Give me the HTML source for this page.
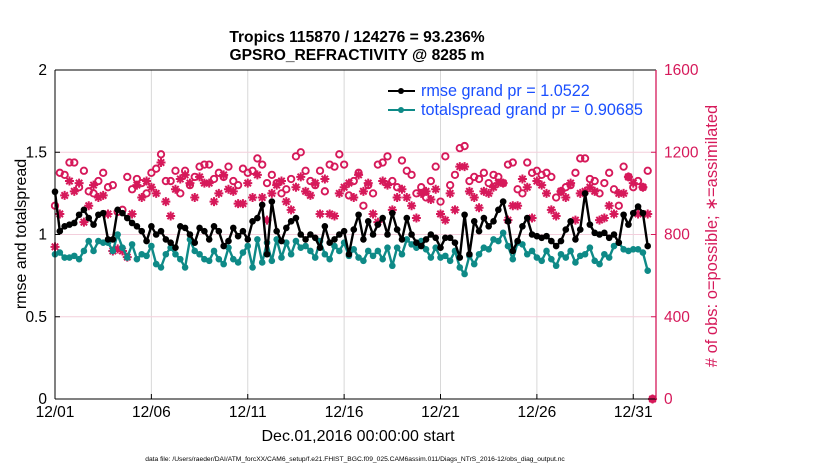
<!DOCTYPE html>
<html><head><meta charset="utf-8"><style>
body{margin:0;background:#fff;}
svg{display:block;font-family:"Liberation Sans",Arial,sans-serif;}
</style></head><body>
<svg id="chart" width="830" height="470" viewBox="0 0 830 470">
<text x="357" y="42" font-size="15.6" font-weight="bold" text-anchor="middle">Tropics 115870 / 124276 = 93.236%</text>
<text x="357" y="60" font-size="15.6" font-weight="bold" text-anchor="middle">GPSRO_REFRACTIVITY @ 8285 m</text>
<g id="grid"></g>
<g id="marks"></g>
<g id="axes"></g>
<text transform="translate(26,234) rotate(-90)" font-size="16" text-anchor="middle">rmse and totalspread</text>
<text transform="translate(717,236) rotate(-90)" font-size="16.5" fill="#d6195a" text-anchor="middle"># of obs: o=possible; ∗=assimilated</text>
<text x="358" y="441" font-size="16" text-anchor="middle">Dec.01,2016 00:00:00 start</text>
<text x="355" y="461" font-size="6.7" text-anchor="middle">data file: /Users/raeder/DAI/ATM_forcXX/CAM6_setup/f.e21.FHIST_BGC.f09_025.CAM6assim.011/Diags_NTrS_2016-12/obs_diag_output.nc</text>
<g>
<line x1="388" y1="91" x2="415" y2="91" stroke="#000" stroke-width="2"/>
<circle cx="401" cy="91" r="3" fill="#000"/>
<text x="421" y="96" font-size="16.2" fill="#1a4fff">rmse grand pr = 1.0522</text>
<line x1="388" y1="110" x2="415" y2="110" stroke="#0e8a87" stroke-width="2"/>
<circle cx="401" cy="110" r="3" fill="#0e8a87"/>
<text x="421" y="115" font-size="16.2" fill="#1a4fff">totalspread grand pr = 0.90685</text>
</g>
</svg>
<script>
const rmse=[1.26,1.02,1.05,1.06,1.07,1.12,1.15,1.10,1.06,1.12,1.13,0.97,0.97,1.15,1.13,1.10,1.07,1.05,1.02,0.96,1.05,1.00,1.02,0.97,0.95,0.92,1.05,1.04,1.00,0.95,1.04,1.02,0.97,1.05,1.02,0.93,0.96,1.04,0.99,1.02,0.97,1.08,1.10,1.18,0.88,1.20,1.02,0.96,1.04,1.08,1.10,1.00,0.97,1.00,0.98,0.92,1.05,0.95,0.97,1.00,1.02,0.88,1.03,1.12,0.97,1.08,1.00,1.06,1.10,1.00,1.13,1.03,0.97,1.10,1.00,0.95,0.93,0.97,1.00,0.98,0.92,0.98,0.98,0.95,0.86,1.12,0.88,1.08,1.02,1.10,1.05,1.08,1.15,1.20,1.08,0.90,0.96,1.05,1.10,1.00,0.99,0.98,0.99,0.96,0.93,0.96,1.03,1.08,0.97,1.03,1.25,1.06,1.01,1.00,1.01,0.98,1.00,0.95,1.12,1.06,1.13,1.17,1.13,0.93,null];
const spread=[0.88,0.89,0.86,0.86,0.87,0.85,0.90,0.96,0.90,0.96,0.95,0.95,0.90,1.00,0.92,0.86,0.94,0.85,0.88,0.87,0.93,0.82,0.80,0.88,0.92,0.88,0.85,0.80,0.97,0.90,0.88,0.85,0.84,0.90,0.85,0.82,0.92,0.85,0.83,0.89,0.93,0.80,0.97,0.83,0.95,0.84,0.97,0.86,0.95,0.88,0.96,0.92,0.93,0.90,0.86,0.96,0.88,0.85,0.93,0.90,0.95,0.87,0.91,0.86,0.84,0.90,0.87,0.90,0.85,0.92,0.81,0.92,0.88,0.97,0.94,0.92,0.96,0.91,0.86,0.92,0.86,0.87,0.84,0.90,0.80,0.76,0.87,0.82,0.88,0.92,0.91,0.97,0.96,1.01,0.93,0.85,0.95,0.94,0.88,0.90,0.86,0.84,0.90,0.85,0.81,0.88,0.86,0.90,0.83,0.87,0.88,0.92,0.84,0.82,0.88,0.86,0.93,0.95,0.91,0.90,0.91,0.91,0.89,0.78,null];
const possible=[940,1100,1090,1150,1150,1030,1110,1010,1000,1060,1100,1030,1040,910,920,1080,1020,1070,1050,1000,1100,1120,1190,1060,1060,1110,1000,1110,1040,1080,1130,1140,1140,1070,1100,1080,1130,1060,1040,1120,1100,1110,1170,1140,1050,1090,1050,1000,1020,1070,1180,1200,1110,1060,1040,1110,1010,1140,1130,1190,1140,990,1060,1100,940,1040,1000,1140,1150,1180,1060,1030,1160,1110,1090,1000,1030,980,1060,1130,960,1180,1040,1090,1220,1230,1060,1080,1070,1100,1050,1090,1080,1050,1140,1150,1020,1000,1150,1100,1110,1090,1100,1080,980,1010,1030,1040,1100,1170,1170,1070,1060,1000,1050,1100,1020,940,1130,1080,1030,1060,1030,1110,0];
const assimilated=[740,900,990,1060,1010,1050,860,940,1040,980,990,900,720,730,720,690,900,1040,980,1060,1030,1000,1150,960,890,1020,1070,1090,1050,980,1080,1050,1050,960,1000,1090,1020,1010,950,950,1050,980,1090,980,870,1000,1040,1060,960,920,1030,1080,1010,990,1050,900,1070,900,890,1000,1030,1050,980,1090,1010,1050,900,860,1060,1040,920,980,1020,980,940,880,1000,1010,970,1020,900,870,1000,920,1130,1130,1010,980,930,1010,1000,1030,1050,1050,870,940,940,1070,1030,880,1060,1040,1000,920,890,1010,980,1050,870,1000,1010,1030,1010,870,880,940,900,1000,1000,1080,1050,900,1030,900,0];
const xTickLabels=["12/01","12/06","12/11","12/16","12/21","12/26","12/31"];
const xTickDays=[0,5,10,15,20,25,30];
const yLeftTicks=["0","0.5","1","1.5","2"];
const yRightTicks=["0","400","800","1200","1600"];

const NS="http://www.w3.org/2000/svg";
const X0=55,X1=656,Y0=399,Y1=70,DAYMAX=31.18,STEP=0.25;
const RED="#d6195a",TEAL="#0e8a87";
const xs=d=>X0+(X1-X0)*d/DAYMAX;
const yl=v=>Y0-(Y0-Y1)*v/2;
const yr=v=>Y0-(Y0-Y1)*v/1600;
function mk(tag,attrs,parent){const e=document.createElementNS(NS,tag);for(const k in attrs)e.setAttribute(k,attrs[k]);parent.appendChild(e);return e;}
const grid=document.getElementById('grid'),marks=document.getElementById('marks'),axes=document.getElementById('axes');

xTickDays.forEach((d,i)=>{
  const x=xs(d);
  if(i>0){const g=mk('line',{x1:x,y1:Y1,x2:x,y2:Y0,stroke:'#d8d8d8','stroke-width':1},grid);
  
  }
  mk('line',{x1:x,y1:Y0,x2:x,y2:Y0-5,stroke:'#000'},axes);
  const t=mk('text',{x:x,y:Y0+18,'font-size':15.5,'text-anchor':'middle'},axes);
  t.textContent=xTickLabels[i];
  
  
});
yLeftTicks.forEach((lab,i)=>{
  const y=yl(parseFloat(lab));
  if(i>0&&i<yLeftTicks.length-1){const g=mk('line',{x1:X0,y1:y,x2:X1,y2:y,stroke:'#f3cfdc','stroke-width':1},grid);
  
  }
  mk('line',{x1:X0,y1:y,x2:X0+5,y2:y,stroke:'#000'},axes);
  const t=mk('text',{x:X0-8,y:y+5,'font-size':15.5,'text-anchor':'end'},axes);
  t.textContent=lab;
  
  
});
yRightTicks.forEach(lab=>{
  const y=yr(parseFloat(lab));
  mk('line',{x1:X1,y1:y,x2:X1-5,y2:y,stroke:RED},axes);
  const t=mk('text',{x:X1+8,y:y+5,'font-size':15.5,fill:RED},axes);
  t.textContent=lab;
  
  
});
mk('line',{x1:X0,y1:Y1,x2:X1,y2:Y1,stroke:'#000'},axes);
mk('line',{x1:X0,y1:Y1,x2:X0,y2:Y0,stroke:'#000'},axes);
mk('line',{x1:X0,y1:Y0,x2:X1,y2:Y0,stroke:'#000'},axes);
mk('line',{x1:X1,y1:Y1,x2:X1,y2:Y0,stroke:RED,'stroke-width':1.3},axes);

possible.forEach((v,i)=>{
  const c=mk('circle',{cx:xs(i*STEP),cy:yr(v),r:3.2,fill:'none',stroke:RED,'stroke-width':1.9},marks);
  
  
});
assimilated.forEach((v,i)=>{
  const cx=xs(i*STEP),cy=yr(v),r=4.5,q=3.2;
  const d=`M${cx-r},${cy}L${cx+r},${cy}M${cx},${cy-r}L${cx},${cy+r}M${cx-q},${cy-q}L${cx+q},${cy+q}M${cx-q},${cy+q}L${cx+q},${cy-q}`;
  const p=mk('path',{d:d,stroke:RED,'stroke-width':2,fill:'none'},marks);
  
  
});
function series(arr,color,name){
  let d='';arr.forEach((v,i)=>{if(v==null)return;d+=(d?'L':'M')+xs(i*STEP).toFixed(1)+','+yl(v).toFixed(1);});
  const p=mk('path',{d:d,fill:'none',stroke:color,'stroke-width':2.4,'stroke-linejoin':'round'},marks);
  
  
  arr.forEach((v,i)=>{if(v==null)return;
    const c=mk('circle',{cx:xs(i*STEP),cy:yl(v),r:3.3,fill:color},marks);
    
    });
}
series(spread,TEAL,'totalspread');
series(rmse,'#000','rmse');
</script>
</body></html>
